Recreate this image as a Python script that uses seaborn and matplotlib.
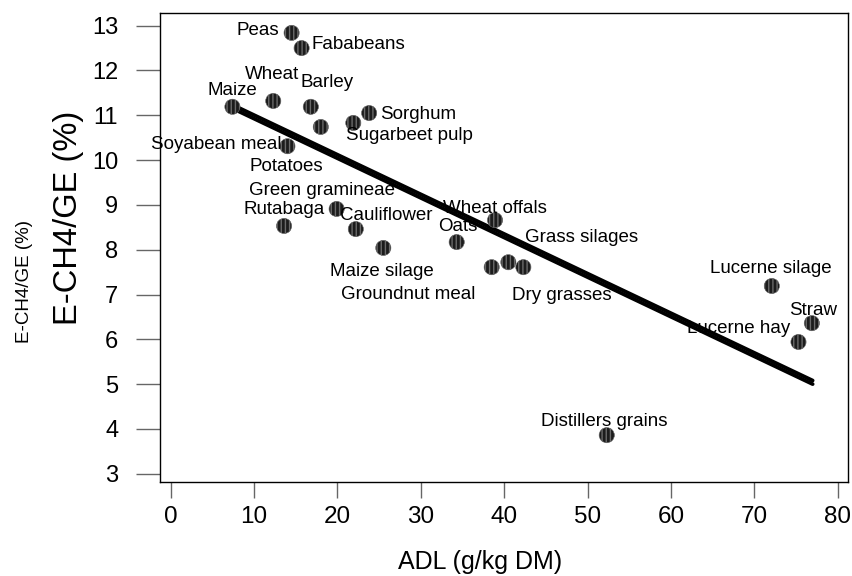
import matplotlib
matplotlib.use("Agg")
import matplotlib.pyplot as plt
import seaborn as sns
import pandas as pd

# ---- data ----
feeds = ["Peas", "Fababeans", "Maize", "Wheat", "Barley", "Potatoes",
         "Sugarbeet pulp", "Sorghum", "Soyabean meal", "Green gramineae",
         "Rutabaga", "Cauliflower", "Maize silage", "Oats", "Wheat offals",
         "Groundnut meal", "Grass silages", "Dry grasses", "Lucerne silage",
         "Straw", "Lucerne hay", "Distillers grains"]
adl = [14.5, 15.7, 7.4, 12.3, 16.8, 18.0, 21.9, 23.8, 14.0, 19.9, 13.6, 22.2,
       25.5, 34.3, 38.9, 38.5, 40.5, 42.3, 72.1, 76.9, 75.3, 52.3]
ech4 = [12.84, 12.50, 11.19, 11.32, 11.19, 10.74, 10.83, 11.05, 10.31, 8.91,
        8.53, 8.46, 8.04, 8.17, 8.66, 7.61, 7.72, 7.61, 7.19, 6.36, 5.94, 3.86]

fit_x = [7.45, 77.0]
fit_y_a = [11.23, 5.08]
fit_y_b = [11.15, 5.00]

x_ticks = [0, 10, 20, 30, 40, 50, 60, 70, 80]
y_ticks = [3, 4, 5, 6, 7, 8, 9, 10, 11, 12, 13]

# label anchor positions (layout, data coords)
label_x = [10.4, 22.5, 7.4, 12.15, 18.75, 13.9, 28.6, 29.7, 5.5, 18.2, 13.65,
           25.8, 25.3, 34.4, 38.9, 28.5, 49.3, 46.9, 72.0, 77.1, 68.1, 52.0]
label_y = [12.90, 12.57, 11.56, 11.90, 11.74, 9.85, 10.56, 11.01, 10.34, 9.33,
           8.89, 8.77, 7.52, 8.51, 8.93, 6.99, 8.28, 6.97, 7.59, 6.65, 6.25, 4.16]

df = pd.DataFrame({"feed": feeds, "ADL": adl, "ECH4": ech4})
fit_df = pd.DataFrame({"x": fit_x + fit_x,
                       "y": fit_y_a + fit_y_b,
                       "fit": ["a", "a", "b", "b"]})

sns.set_style("white")
plt.rcParams["font.family"] = ["Liberation Sans", "DejaVu Sans"]
plt.rcParams["text.color"] = "black"
plt.rcParams["xtick.color"] = "black"
plt.rcParams["ytick.color"] = "black"

fig = plt.figure(figsize=(8.53, 5.76), dpi=100)
ax = fig.add_axes([160.3 / 853, (576 - 482) / 576, (848 - 160.3) / 853, (482 - 12.7) / 576])

sns.lineplot(data=fit_df, x="x", y="y", units="fit", estimator=None,
             color="black", linewidth=2.7, ax=ax, zorder=2, legend=False)
sns.scatterplot(data=df, x="ADL", y="ECH4", ax=ax, s=120, marker="o",
                color="#1c1c1c", edgecolor="#6a6a6a", linewidth=0.4,
                hatch="||||", zorder=3, legend=False)

for name, lx, ly in zip(feeds, label_x, label_y):
    ax.text(lx, ly, name, ha="center", va="center", fontsize=13.5,
            color="black", zorder=4)

ax.set_xlim(-1.25, 81.24)
ax.set_ylim(2.815, 13.29)
ax.set_xticks(x_ticks)
ax.set_yticks(y_ticks)
ax.set_xlabel("")
ax.set_ylabel("")

ax.set_xticklabels([str(v) for v in x_ticks], fontsize=17.5, color="black")
ax.set_yticklabels([str(v) for v in y_ticks], fontsize=17, color="black")
ax.tick_params(axis="x", bottom=True, direction="out", length=11.5, width=1,
               color="#666666", pad=6)
ax.tick_params(axis="y", left=True, direction="out", length=17.3, width=1,
               color="#666666", pad=13)
for sp in ax.spines.values():
    sp.set_visible(True)
    sp.set_color("black")
    sp.set_linewidth(1.0)

fig.text(480 / 853, 1 - 562 / 576, "ADL (g/kg DM)", ha="center", va="center",
         fontsize=18, color="black")
fig.text(25 / 853, 1 - 282 / 576, "E-CH4/GE (%)", rotation=90, ha="center",
         va="center", fontsize=13.5, color="black")
fig.text(68 / 853, 1 - 218 / 576, "E-CH4/GE (%)", rotation=90, ha="center",
         va="center", fontsize=23.5, color="black")

fig.savefig("out.png", dpi=100)
